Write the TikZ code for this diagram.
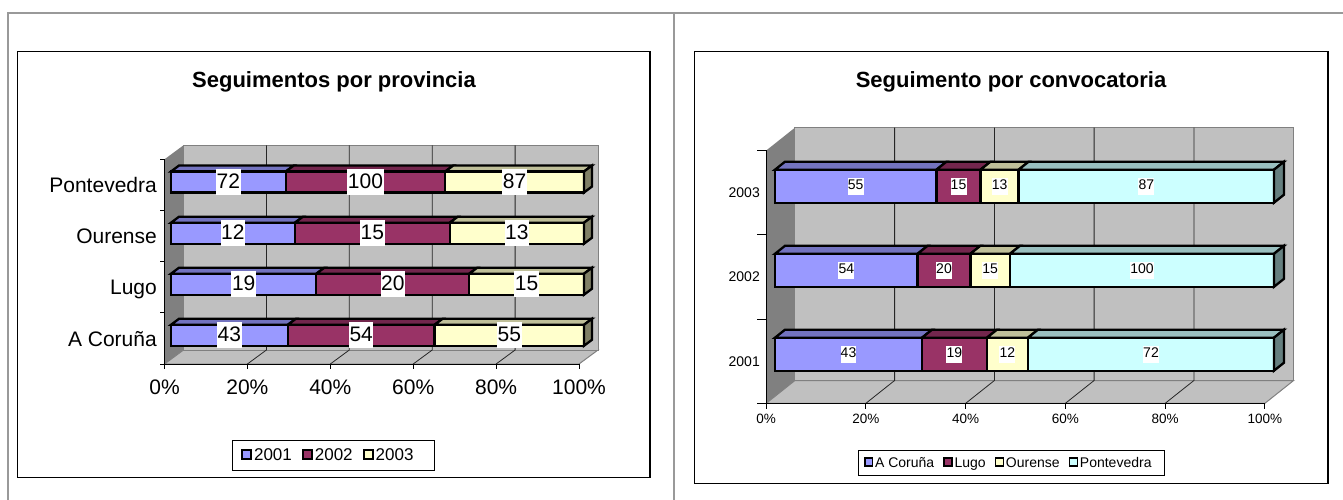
\documentclass[tikz,border=0pt]{standalone}
\usepackage{fontspec}
\setmainfont{Liberation Sans}
\usepackage{tikz}
\usetikzlibrary{calc,positioning}

\definecolor{peri}{HTML}{9999FF}
\definecolor{peritop}{HTML}{7373BF}
\definecolor{plum}{HTML}{993366}
\definecolor{plumtop}{HTML}{73264D}
\definecolor{cream}{HTML}{FFFFCC}
\definecolor{creamtop}{HTML}{BFBF99}
\definecolor{creamside}{HTML}{808066}
\definecolor{aqua}{HTML}{CCFFFF}
\definecolor{aquatop}{HTML}{99BFBF}
\definecolor{aquaside}{HTML}{668080}
\definecolor{wallgray}{HTML}{C0C0C0}
\definecolor{sidegray}{HTML}{808080}
\definecolor{framegray}{HTML}{999999}

% one piece of a 3d bar: x0, x1, top, bottom, depth x, depth y, colour
\newcommand*\barseg[7]{%
	\filldraw[fill=#7top] (#1,#3) -- ($(#1,#3)+(#5,#6)$) -- ($(#2,#3)+(#5,#6)$) -- (#2,#3) -- cycle;
	\filldraw[fill=#7] (#1,#3) rectangle (#2,#4);}
% right end of a 3d bar: x, top, bottom, depth x, depth y, colour
\newcommand*\barend[6]{%
	\filldraw[fill=#6side] (#1,#2) -- ($(#1,#2)+(#4,#5)$) -- ($(#1,#3)+(#4,#5)$) -- (#1,#3) -- cycle;}

\begin{document}
\begin{tikzpicture}[x=1pt,y=-1pt,
				charttitle/.style={anchor=base, inner sep=0pt, font=\fontsize{22}{26}\selectfont\bfseries}
				,wall/.style={fill=wallgray, draw=sidegray, line width=1pt}
				,gridln/.style={draw=black!85, line width=.8pt}
				,axisln/.style={draw=black, line width=1pt}
				,barline/.style={draw=black, line width=2.3pt}
				,dlab/.style={fill=white, inner xsep=.6pt, inner ysep=4pt, text height=15pt, text depth=3pt, font=\fontsize{21}{25}\selectfont}
				,dlabs/.style={fill=white, inner xsep=.2pt, inner ysep=1.5pt, text height=10.3pt, text depth=3.5pt, font=\fontsize{14}{17}\selectfont}
				,catlab/.style={anchor=east, inner sep=0pt, text height=15pt, text depth=0pt, font=\fontsize{21}{25}\selectfont}
				,catlabs/.style={anchor=east, inner sep=0pt, text height=10pt, text depth=0pt, font=\fontsize{14}{17}\selectfont}
				,axlab/.style={inner sep=0pt, text height=15pt, text depth=0pt, font=\fontsize{21}{25}\selectfont}
				,axlabs/.style={inner sep=0pt, text height=9.7pt, text depth=0pt, font=\fontsize{13.5}{16}\selectfont}
				,legsq/.style={draw, line width=1.6pt, minimum size=9pt, inner sep=0pt, outer sep=0pt}
				,legsqs/.style={draw, line width=1.5pt, minimum size=7.8pt, inner sep=0pt, outer sep=0pt}
				,legtx/.style={inner sep=0pt, outer sep=0pt, text height=12.2pt, text depth=0pt, font=\fontsize{17}{20}\selectfont}
				,legtxs/.style={inner sep=0pt, outer sep=0pt, text height=10pt, text depth=0pt, font=\fontsize{14}{17}\selectfont}
				]
				\useasboundingbox (0,0) rectangle (1343,500);
				\draw[framegray, line width=2pt] (7.7,500) -- (7.7,13.3) -- (1343,13.3) (674.3,13.3) -- (674.3,500);
				
				% left chart
				\draw[line width=1.2pt] (17.7,51.7) rectangle (650,477.7);
				\node[charttitle] (t1) at (334,87.3) {Seguimentos por provincia};
				\fill[sidegray] (164.5,159.3) -- (183.5,145.3) -- (183.5,350) -- (164.5,364) -- cycle;
				\filldraw[wall] (164.5,364) -- (579,364) -- (598,350) -- (183.5,350) -- cycle;
				\filldraw[wall] (183.5,145.3) rectangle (598,350);
				\draw[gridln] (266.4,145.3) -- (266.4,350) -- (247.4,364);
				\draw[gridln] (349.3,145.3) -- (349.3,350) -- (330.3,364);
				\draw[gridln] (432.2,145.3) -- (432.2,350) -- (413.2,364);
				\draw[gridln] (515.1,145.3) -- (515.1,350) -- (496.1,364);
				\draw[axisln] (160,159.3) -- (164.5,159.3) -- (164.5,369) (164.5,364) -- (579,364) -- (579,369)
					(160,210.5) -- (164.5,210.5) (160,261.7) -- (164.5,261.7) (160,312.9) -- (164.5,312.9) (160,364) -- (164.5,364)
					(247.4,364) -- (247.4,369) (330.3,364) -- (330.3,369) (413.2,364) -- (413.2,369) (496.1,364) -- (496.1,369);
				\begin{scope}[barline]
					\barseg{171}{285.81}{171.5}{192.5}{8}{-6}{peri}
					\barseg{285.81}{445.27}{171.5}{192.5}{8}{-6}{plum}
					\barseg{445.27}{584}{171.5}{192.5}{8}{-6}{cream}
					\barend{584}{171.5}{192.5}{8}{-6}{cream}
					\barseg{171}{294.9}{222.7}{243.7}{8}{-6}{peri}
					\barseg{294.9}{449.78}{222.7}{243.7}{8}{-6}{plum}
					\barseg{449.78}{584}{222.7}{243.7}{8}{-6}{cream}
					\barend{584}{222.7}{243.7}{8}{-6}{cream}
					\barseg{171}{316.31}{273.7}{294.7}{8}{-6}{peri}
					\barseg{316.31}{469.28}{273.7}{294.7}{8}{-6}{plum}
					\barseg{469.28}{584}{273.7}{294.7}{8}{-6}{cream}
					\barend{584}{273.7}{294.7}{8}{-6}{cream}
					\barseg{171}{287.84}{324.8}{345.8}{8}{-6}{peri}
					\barseg{287.84}{434.57}{324.8}{345.8}{8}{-6}{plum}
					\barseg{434.57}{584}{324.8}{345.8}{8}{-6}{cream}
					\barend{584}{324.8}{345.8}{8}{-6}{cream}
				\end{scope}
				\node[dlab] (d1) at (228.4,182) {72};
				\node[dlab] (d2) at (365.5,182) {100};
				\node[dlab] (d3) at (514.6,182) {87};
				\node[dlab] (d4) at (232.9,233.2) {12};
				\node[dlab] (d5) at (372.3,233.2) {15};
				\node[dlab] (d6) at (516.9,233.2) {13};
				\node[dlab] (d7) at (243.7,284.2) {19};
				\node[dlab] (d8) at (392.8,284.2) {20};
				\node[dlab] (d9) at (526.6,284.2) {15};
				\node[dlab] (d10) at (229.4,335.3) {43};
				\node[dlab] (d11) at (361.2,335.3) {54};
				\node[dlab] (d12) at (509.3,335.3) {55};
				\node[catlab] (c1) at (157,185) {Pontevedra};
				\node[catlab] (c2) at (157,236.2) {Ourense};
				\node[catlab] (c3) at (157,287.4) {Lugo};
				\node[catlab] (c4) at (157,338.6) {A Coruña};
				\node[axlab] (a1) at (164.5,386.7) {0\%};
				\node[axlab] (a2) at (247.4,386.7) {20\%};
				\node[axlab] (a3) at (330.3,386.7) {40\%};
				\node[axlab] (a4) at (413.2,386.7) {60\%};
				\node[axlab] (a5) at (496.1,386.7) {80\%};
				\node[axlab] (a6) at (579,386.7) {100\%};
				\draw[line width=1pt] (232.9,440.7) rectangle (434.6,470);
				\node[legsq,fill=peri] (k1) at (246.75,454.5) {};
				\node[legtx,right=2.8pt of k1] (k2) {2001};
				\node[legsq,fill=plum,right=11.2pt of k2] (k3) {};
				\node[legtx,right=2.8pt of k3] (k4) {2002};
				\node[legsq,fill=cream,right=11.2pt of k4] (k5) {};
				\node[legtx,right=2.8pt of k5] (k6) {2003};
				
				% right chart
				\draw[line width=1.2pt] (694.4,51.7) rectangle (1328,483.3);
				\node[charttitle] (t2) at (1011,87.3) {Seguimento por convocatoria};
				\fill[sidegray] (766.2,150.5) -- (794.9,127.7) -- (794.9,380.5) -- (766.2,403.3) -- cycle;
				\filldraw[wall] (766.2,403.3) -- (1264.9,403.3) -- (1293.6,380.5) -- (794.9,380.5) -- cycle;
				\filldraw[wall] (794.9,127.7) rectangle (1293.6,380.5);
				\draw[gridln] (894.6,127.7) -- (894.6,380.5) -- (865.9,403.3);
				\draw[gridln] (994.4,127.7) -- (994.4,380.5) -- (965.7,403.3);
				\draw[gridln] (1094.1,127.7) -- (1094.1,380.5) -- (1065.4,403.3);
				\draw[gridln] (1193.9,127.7) -- (1193.9,380.5) -- (1165.2,403.3);
				\draw[axisln] (757,150.5) -- (766.2,150.5) -- (766.2,409) (766.2,403.3) -- (1264.9,403.3) -- (1264.9,409)
					(757,234.8) -- (766.2,234.8) (757,319) -- (766.2,319) (757,403.3) -- (766.2,403.3)
					(865.9,403.3) -- (865.9,409) (965.7,403.3) -- (965.7,409) (1065.4,403.3) -- (1065.4,409) (1165.2,403.3) -- (1165.2,409);
				\begin{scope}[barline]
					\barseg{775}{936.44}{169.7}{202.7}{10}{-8}{peri}
					\barseg{936.44}{980.47}{169.7}{202.7}{10}{-8}{plum}
					\barseg{980.47}{1018.63}{169.7}{202.7}{10}{-8}{cream}
					\barseg{1018.63}{1274}{169.7}{202.7}{10}{-8}{aqua}
					\barend{1274}{169.7}{202.7}{10}{-8}{aqua}
					\barseg{775}{917.57}{253.8}{286.8}{10}{-8}{peri}
					\barseg{917.57}{970.38}{253.8}{286.8}{10}{-8}{plum}
					\barseg{970.38}{1009.98}{253.8}{286.8}{10}{-8}{cream}
					\barseg{1009.98}{1274}{253.8}{286.8}{10}{-8}{aqua}
					\barend{1274}{253.8}{286.8}{10}{-8}{aqua}
					\barseg{775}{921.97}{337.7}{370.7}{10}{-8}{peri}
					\barseg{921.97}{986.9}{337.7}{370.7}{10}{-8}{plum}
					\barseg{986.9}{1027.92}{337.7}{370.7}{10}{-8}{cream}
					\barseg{1027.92}{1274}{337.7}{370.7}{10}{-8}{aqua}
					\barend{1274}{337.7}{370.7}{10}{-8}{aqua}
				\end{scope}
				\node[dlabs] (d13) at (855.7,186.2) {55};
				\node[dlabs] (d14) at (958.5,186.2) {15};
				\node[dlabs] (d15) at (999.6,186.2) {13};
				\node[dlabs] (d16) at (1146.3,186.2) {87};
				\node[dlabs] (d17) at (846.3,270.3) {54};
				\node[dlabs] (d18) at (944,270.3) {20};
				\node[dlabs] (d19) at (990.2,270.3) {15};
				\node[dlabs] (d20) at (1142,270.3) {100};
				\node[dlabs] (d21) at (848.5,354.2) {43};
				\node[dlabs] (d22) at (954.4,354.2) {19};
				\node[dlabs] (d23) at (1007.4,354.2) {12};
				\node[dlabs] (d24) at (1151,354.2) {72};
				\node[catlabs] (c5) at (760,192.6) {2003};
				\node[catlabs] (c6) at (760,276.9) {2002};
				\node[catlabs] (c7) at (760,361.2) {2001};
				\node[axlabs] (a7) at (766.2,418.3) {0\%};
				\node[axlabs] (a8) at (865.9,418.3) {20\%};
				\node[axlabs] (a9) at (965.7,418.3) {40\%};
				\node[axlabs] (a10) at (1065.4,418.3) {60\%};
				\node[axlabs] (a11) at (1165.2,418.3) {80\%};
				\node[axlabs] (a12) at (1264.9,418.3) {100\%};
				\draw[line width=1pt] (858.3,450) rectangle (1164.4,475);
				\node[legsqs,fill=peri] (k7) at (868.65,462) {};
				\node[legtxs,right=2.5pt of k7] (k8) {A Coruña};
				\node[legsqs,fill=plum,right=10pt of k8] (k9) {};
				\node[legtxs,right=2.5pt of k9] (k10) {Lugo};
				\node[legsqs,fill=cream,right=10pt of k10] (k11) {};
				\node[legtxs,right=2.5pt of k11] (k12) {Ourense};
				\node[legsqs,fill=aqua,right=10pt of k12] (k13) {};
				\node[legtxs,right=2.5pt of k13] (k14) {Pontevedra};
			\end{tikzpicture}
\end{document}
